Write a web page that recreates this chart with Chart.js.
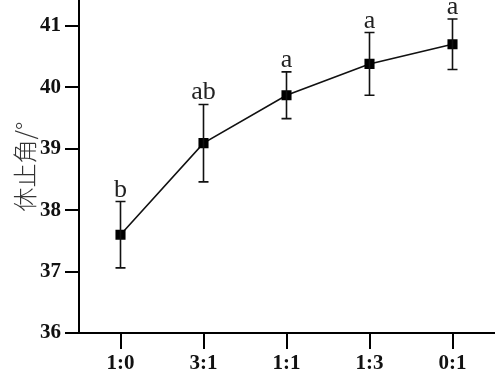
<!DOCTYPE html>
<html><head><meta charset="utf-8">
<script src="https://cdn.jsdelivr.net/npm/chart.js@4"></script>
<style>html,body{margin:0;padding:0;background:#fff}#wrap{width:500px;height:380px}</style>
</head><body><div id="wrap"><canvas id="c"></canvas></div>
<script>
const categories = ['1:0','3:1','1:1','1:3','0:1'];
const values = [37.60, 39.09, 39.87, 40.38, 40.70];
const errors = [0.54, 0.63, 0.38, 0.51, 0.41];
const letters = ['b','ab','a','a','a'];
const yTicks = [36,37,38,39,40,41];

const errPlugin = {
  id:'err',
  afterDatasetsDraw(chart){
    const ctx = chart.ctx, x = chart.scales.x, y = chart.scales.y;
    ctx.save();
    ctx.strokeStyle = '#111'; ctx.lineWidth = 1.6;
    values.forEach((v,i)=>{
      const px = x.getPixelForValue(i);
      const top = y.getPixelForValue(v+errors[i]);
      const bot = y.getPixelForValue(v-errors[i]);
      ctx.beginPath();
      ctx.moveTo(px,top); ctx.lineTo(px,bot);
      ctx.moveTo(px-5,top); ctx.lineTo(px+5,top);
      ctx.moveTo(px-5,bot); ctx.lineTo(px+5,bot);
      ctx.stroke();
      ctx.fillStyle = '#222';
      ctx.font = '26px "Liberation Serif"';
      ctx.textAlign = 'center'; ctx.textBaseline = 'alphabetic';
      ctx.fillText(letters[i], px, top - 5);
    });
    ctx.restore();
  }
};

new Chart(document.getElementById('c'), {
  type:'line',
  data:{labels:categories, datasets:[{data:values, borderColor:'#111', borderWidth:1.6,
    pointStyle:'rect', pointRadius:6, pointBackgroundColor:'#000', pointBorderColor:'#000', tension:0, clip:false}]},
  options:{
    responsive:true, maintainAspectRatio:false, animation:false,
    layout:{autoPadding:false, padding:{top:0,right:6,left:0,bottom:0}},
    plugins:{legend:{display:false}, tooltip:{enabled:false}},
    scales:{
      x:{offset:true,
        grid:{drawOnChartArea:false, drawTicks:true, tickLength:16, color:'#000', lineWidth:2},
        border:{display:true,color:'#000',width:2},
        ticks:{color:'#111', font:{family:'"Liberation Serif"', size:21, weight:'bold'}, padding:2},
        afterFit(s){ s.height = 47; }
      },
      y:{min:36, max:41.42,
        afterBuildTicks(s){ s.ticks = yTicks.map(v=>({value:v})); },
        grid:{drawOnChartArea:false, drawTicks:true, tickLength:14, color:'#000', lineWidth:2},
        border:{display:true,color:'#000',width:2},
        ticks:{color:'#111', font:{family:'"Liberation Serif"', size:21, weight:'bold'}, padding:4},
        title:{display:true, text:'休止角/°', color:'#333', font:{family:'"Noto Sans CJK SC"', size:24, weight:'300'}, padding:{top:10,bottom:0}},
        afterFit(s){ s.width = 79; s.paddingTop = 0; s.paddingBottom = 0; }
      }
    }
  },
  plugins:[errPlugin]
});
</script></body></html>
